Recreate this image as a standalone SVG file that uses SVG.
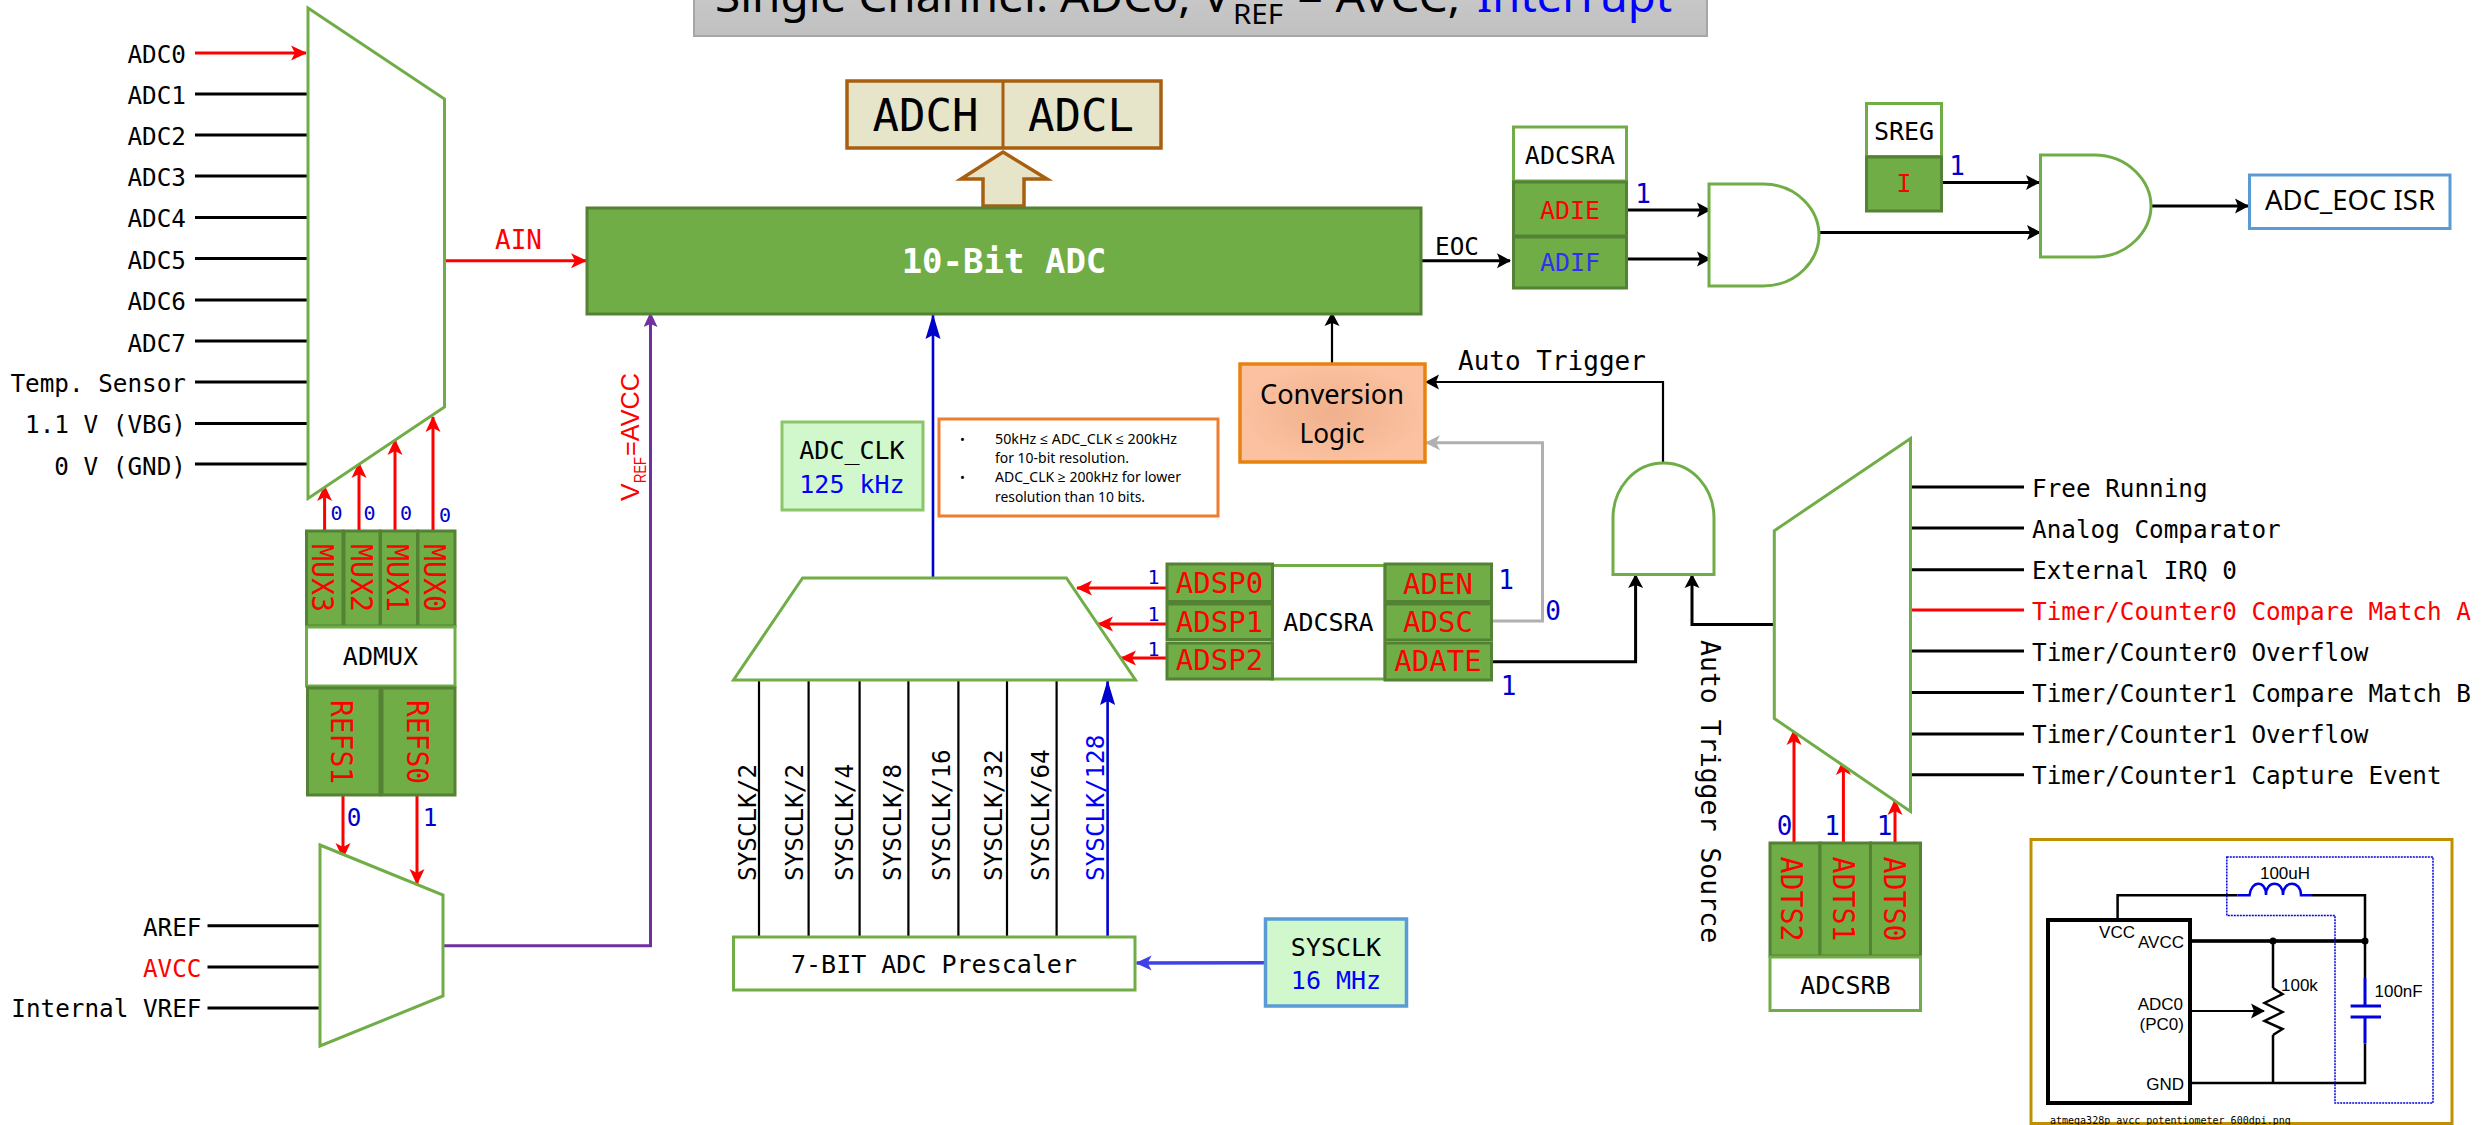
<svg xmlns="http://www.w3.org/2000/svg" width="2488" height="1125" viewBox="0 0 2488 1125">
<style>
text{font-family:"DejaVu Sans Mono",monospace;font-size:24.300px;fill:#000}
.s{font-family:"Noto Sans","Open Sans",sans-serif}
.e{text-anchor:end}.c{text-anchor:middle}
.r{fill:#f00}.b{fill:#0000cc}.bb{fill:#00f}.w{fill:#fff}
.v0{font-size:20px}.v1{font-size:26px}
.bit{fill:#70ad47;stroke:#548235;stroke-width:3}
.reg{fill:#fff;stroke:#70ad47;stroke-width:3}
.mux{fill:#fff;stroke:#70ad47;stroke-width:3}
.clk{fill:#d0f8cc}
.sch{font-family:"Liberation Sans",sans-serif;font-size:17px}
path,line{fill:none}
.k{stroke:#000;stroke-width:3}
.k2{stroke:#000;stroke-width:2.2}
.rd{stroke:#f00;stroke-width:3}
.bl{stroke:#0000cc;stroke-width:2.6}
.pu{stroke:#7030a0;stroke-width:3}
.gr{stroke:#b0b0b0;stroke-width:3}
.ib{stroke:#4040e8;stroke-width:3.5}
</style>
<defs>
<marker id="aR" markerUnits="userSpaceOnUse" markerWidth="16" markerHeight="16" viewBox="0 0 16 16" refX="15" refY="8" orient="auto"><path d="M0,0.5L16,8L0,15.5L4,8Z" style="fill:#f00"/></marker>
<marker id="aK" markerUnits="userSpaceOnUse" markerWidth="14" markerHeight="16" viewBox="0 0 14 16" refX="13" refY="8" orient="auto"><path d="M0,0.5L14,8L0,15.5L3,8Z" style="fill:#000"/></marker>
<marker id="aB" markerUnits="userSpaceOnUse" markerWidth="25" markerHeight="16" viewBox="0 0 25 16" refX="24" refY="8" orient="auto"><path d="M0,0.5L25,8L0,15.5L4,8Z" style="fill:#0000cc"/></marker>
<marker id="aI" markerUnits="userSpaceOnUse" markerWidth="16" markerHeight="16" viewBox="0 0 16 16" refX="15" refY="8" orient="auto"><path d="M0,0.5L16,8L0,15.5L4,8Z" style="fill:#4040e8"/></marker>
<marker id="aP" markerUnits="userSpaceOnUse" markerWidth="15" markerHeight="14" viewBox="0 0 15 14" refX="14" refY="7" orient="auto"><path d="M0,0L15,7L0,14L3,7Z" style="fill:#7030a0"/></marker>
<marker id="aG" markerUnits="userSpaceOnUse" markerWidth="15" markerHeight="16" viewBox="0 0 15 16" refX="14" refY="8" orient="auto"><path d="M0,0.5L15,8L0,15.5L4,8Z" style="fill:#b0b0b0"/></marker>
<radialGradient id="cl"><stop offset="0" stop-color="#f0b08c"/><stop offset="1" stop-color="#fbc1a0"/></radialGradient>
<linearGradient id="tb" x1="0" y1="0" x2="0" y2="1"><stop offset="0" stop-color="#c8c8c8"/><stop offset="1" stop-color="#c0c0c0"/></linearGradient>
</defs>
<rect width="2488" height="1125" fill="#fff"/>

<g id="title">
<rect x="694" y="-6" width="1013" height="42" fill="url(#tb)" stroke="#a6a6a6" stroke-width="2"/>
<text class="s" x="715" y="12" style="font-size:44px" textLength="515" lengthAdjust="spacingAndGlyphs">Single Channel: ADC0, V</text>
<text class="s" x="1233" y="24" style="font-size:28px" textLength="50" lengthAdjust="spacingAndGlyphs">REF</text>
<text class="s" x="1297" y="12" style="font-size:44px" textLength="163" lengthAdjust="spacingAndGlyphs">= AVCC,</text>
<text class="s bb" x="1477" y="12" style="font-size:44px" textLength="195" lengthAdjust="spacingAndGlyphs">Interrupt</text>
</g>

<g id="connectors">
<path class="rd" d="M195 53H306" marker-end="url(#aR)"/>
<path class="k" d="M195 94H308M195 135H308M195 176H308M195 217.500H308M195 258.600H308M195 300H308M195 341H308M195 382H308M195 423.600H308M195 464H308"/>
<path class="rd" d="M445 260.700H586" marker-end="url(#aR)"/>
<path class="rd" d="M324.600 530V486" marker-end="url(#aR)"/>
<path class="rd" d="M359 530V463" marker-end="url(#aR)"/>
<path class="rd" d="M395 530V440" marker-end="url(#aR)"/>
<path class="rd" d="M433 530V417" marker-end="url(#aR)"/>
<path class="rd" d="M343 796V858" marker-end="url(#aR)"/>
<path class="rd" d="M417 796V884" marker-end="url(#aR)"/>
<path class="k" d="M207.500 925.700H320M207.500 967H320M207.500 1008H320"/>
<path class="pu" d="M444 945.700H650.500V313" marker-end="url(#aP)"/>
<path class="bl" d="M933 578V315" marker-end="url(#aB)"/>
<path class="k2" d="M1332 364V313" marker-end="url(#aK)"/>
<path class="k" d="M1421 260.700H1510" marker-end="url(#aK)"/>
<path class="k" d="M1627 210H1710" marker-end="url(#aK)"/>
<path class="k" d="M1627 259H1710" marker-end="url(#aK)"/>
<path class="k" d="M1819 232.400H2040" marker-end="url(#aK)"/>
<path class="k" d="M1942 182.400H2039" marker-end="url(#aK)"/>
<path class="k" d="M2151 206H2248" marker-end="url(#aK)"/>
<path class="k2" d="M1663 463V382H1426" marker-end="url(#aK)"/>
<path class="gr" d="M1491.600 621H1542.500V442.800H1426" marker-end="url(#aG)"/>
<path class="k" d="M1491 661.700H1635.600V575" marker-end="url(#aK)"/>
<path class="k" d="M1774 624.400H1692V575" marker-end="url(#aK)"/>
<path class="rd" d="M1167 588H1077" marker-end="url(#aR)"/>
<path class="rd" d="M1167 624H1098" marker-end="url(#aR)"/>
<path class="rd" d="M1167 658H1121" marker-end="url(#aR)"/>
<path class="k2" d="M759 680V937M808.600 680V937M859.600 680V937M908.400 680V937M958.400 680V937M1007 680V937M1056.600 680V937"/>
<path class="bl" d="M1107.600 937V681" marker-end="url(#aB)"/>
<path class="ib" d="M1265 962.700L1136.600 963" marker-end="url(#aI)"/>
<path class="k" d="M1911 487H2024M1911 528H2024M1911 569.700H2024M1911 651H2024M1911 692.400H2024M1911 734H2024M1911 774.800H2024"/>
<path class="rd" d="M1911 610H2024"/>
<path class="rd" d="M1794 843V730" marker-end="url(#aR)"/>
<path class="rd" d="M1843.400 843V760" marker-end="url(#aR)"/>
<path class="rd" d="M1895 843V800" marker-end="url(#aR)"/>
</g>

<g id="adc-inputs">
<text class="e" x="186" y="62.500">ADC0</text><text class="e" x="186" y="104">ADC1</text><text class="e" x="186" y="145">ADC2</text><text class="e" x="186" y="186">ADC3</text><text class="e" x="186" y="227">ADC4</text><text class="e" x="186" y="268.500">ADC5</text><text class="e" x="186" y="310">ADC6</text><text class="e" x="186" y="351.500">ADC7</text><text class="e" x="186" y="392">Temp. Sensor</text><text class="e" x="186" y="433">1.1 V (VBG)</text><text class="e" x="186" y="474.500">0 V (GND)</text>
</g>
<g id="adc-mux"><path class="mux" d="M308 8L444.500 99V407L308 498.500Z"/></g>
<text class="r" x="495" y="249" style="font-size:26px">AIN</text>
<g id="mux-labels">
<text class="b v0" x="336.500" y="520" text-anchor="middle">0</text><text class="b v0" x="369.500" y="520" text-anchor="middle">0</text><text class="b v0" x="406" y="520" text-anchor="middle">0</text><text class="b v0" x="445" y="522" text-anchor="middle">0</text>
</g>
<g id="mux-bits">
<rect class="bit" x="306.500" y="531" width="36.500" height="95"/><rect class="bit" x="344" y="531" width="36" height="95"/><rect class="bit" x="380.500" y="531" width="37" height="95"/><rect class="bit" x="418" y="531" width="37" height="95"/>
<text class="r" transform="translate(312 544) rotate(90)" style="font-size:31px" textLength="68" lengthAdjust="spacingAndGlyphs">MUX3</text>
<text class="r" transform="translate(350.500 544) rotate(90)" style="font-size:31px" textLength="68" lengthAdjust="spacingAndGlyphs">MUX2</text>
<text class="r" transform="translate(387 544) rotate(90)" style="font-size:31px" textLength="68" lengthAdjust="spacingAndGlyphs">MUX1</text>
<text class="r" transform="translate(424 544) rotate(90)" style="font-size:31px" textLength="68" lengthAdjust="spacingAndGlyphs">MUX0</text>
</g>
<g id="admux"><rect class="reg" x="306.500" y="627" width="148.500" height="59"/><text class="c" x="380.500" y="665" style="font-size:25px">ADMUX</text></g>
<g id="refs-bits">
<rect class="bit" x="307.500" y="688" width="72.500" height="107"/><rect class="bit" x="382" y="688" width="73" height="107"/>
<text class="r" transform="translate(331 700) rotate(90)" style="font-size:31px" textLength="84" lengthAdjust="spacingAndGlyphs">REFS1</text>
<text class="r" transform="translate(406.500 700) rotate(90)" style="font-size:31px" textLength="84" lengthAdjust="spacingAndGlyphs">REFS0</text>
</g>
<text class="b c" x="354" y="826">0</text><text class="b c" x="430" y="826">1</text>
<g id="vref-mux"><path class="mux" d="M320 845L443 895V996L320 1046Z"/></g>
<g id="vref-inputs"><text class="e" x="201.500" y="935.500">AREF</text><text class="e r" x="201.500" y="976.500">AVCC</text><text class="e" x="201.500" y="1017">Internal VREF</text></g>
<g id="vref-label">
<text class="r" transform="translate(639 501) rotate(-90)" style="font-family:'Liberation Sans',sans-serif;font-size:26.500px">V</text>
<text class="r" transform="translate(646 483) rotate(-90)" style="font-family:'Liberation Sans',sans-serif;font-size:17px" textLength="26" lengthAdjust="spacingAndGlyphs">REF</text>
<text class="r" transform="translate(639 456) rotate(-90)" style="font-family:'Liberation Sans',sans-serif;font-size:26.500px" textLength="83" lengthAdjust="spacingAndGlyphs">=AVCC</text>
</g>

<g id="adc-result">
<rect x="847" y="81" width="314" height="67" fill="#e6e4c9" stroke="#a85f10" stroke-width="3.500"/>
<path d="M1003 81V148" stroke="#a85f10" stroke-width="3"/>
<text class="c" x="925.500" y="130.500" style="font-size:44px">ADCH</text><text class="c" x="1081" y="130.500" style="font-size:44px">ADCL</text>
<path d="M1003 152L1047 179H1024V206H983V179H961Z" style="fill:#e6e4c9" stroke="#a85f10" stroke-width="3.500"/>
</g>
<g id="adc-core"><rect class="bit" x="587" y="208" width="834" height="106"/><text class="c w" x="1004" y="273" style="font-size:34px;font-weight:bold">10-Bit ADC</text></g>
<text x="1435" y="255">EOC</text>
<g id="adc-clk"><rect x="782" y="422" width="141" height="88" class="clk" stroke="#8bc567" stroke-width="3"/><text class="c" x="852" y="459" style="font-size:25px">ADC_CLK</text><text class="c bb" x="852" y="493" style="font-size:25px">125 kHz</text></g>
<g id="note">
<rect x="939" y="419" width="279" height="97" fill="#fff" stroke="#ed7d31" stroke-width="3"/>
<text class="s" x="960" y="444" style="font-size:13px">•</text><text class="s" x="960" y="482" style="font-size:13px">•</text>
<text class="s" x="995" y="444" style="font-size:14px" textLength="182" lengthAdjust="spacingAndGlyphs">50kHz  ≤ ADC_CLK ≤ 200kHz</text>
<text class="s" x="995" y="463" style="font-size:14px" textLength="134" lengthAdjust="spacingAndGlyphs">for 10-bit resolution.</text>
<text class="s" x="995" y="482" style="font-size:14px" textLength="186" lengthAdjust="spacingAndGlyphs">ADC_CLK ≥ 200kHz for lower</text>
<text class="s" x="995" y="502" style="font-size:14px" textLength="150" lengthAdjust="spacingAndGlyphs">resolution than 10 bits.</text>
</g>
<g id="conversion-logic"><rect x="1240" y="364" width="185" height="98" fill="url(#cl)" stroke="#e8820f" stroke-width="3.500"/>
<text class="s c" x="1332" y="404" style="font-size:27px" textLength="144" lengthAdjust="spacingAndGlyphs">Conversion</text><text class="s c" x="1332" y="443" style="font-size:27px" textLength="65" lengthAdjust="spacingAndGlyphs">Logic</text></g>
<text x="1458" y="370" style="font-size:26px">Auto Trigger</text>

<g id="prescaler-mux"><path class="mux" d="M802.600 578H1066.400L1135.500 680H733.500Z"/></g>
<g id="sysclk-labels">
<text transform="translate(756 881) rotate(-90)">SYSCLK/2</text><text transform="translate(803 881) rotate(-90)">SYSCLK/2</text><text transform="translate(852.500 881) rotate(-90)">SYSCLK/4</text><text transform="translate(901 881) rotate(-90)">SYSCLK/8</text><text transform="translate(950 881) rotate(-90)">SYSCLK/16</text><text transform="translate(1001.700 881) rotate(-90)">SYSCLK/32</text><text transform="translate(1049.400 881) rotate(-90)">SYSCLK/64</text><text class="bb" transform="translate(1104.300 881) rotate(-90)">SYSCLK/128</text>
</g>
<g id="prescaler"><rect class="reg" x="733.500" y="937" width="401.500" height="53"/><text class="c" x="934" y="973" style="font-size:25px">7-BIT ADC Prescaler</text></g>
<g id="sysclk"><rect x="1265.500" y="919" width="141" height="87" class="clk" stroke="#5b9bd5" stroke-width="3.500"/><text class="c" x="1336" y="956" style="font-size:25px">SYSCLK</text><text class="c bb" x="1336" y="989" style="font-size:25px">16 MHz</text></g>

<g id="adcsra-lower">
<rect class="reg" x="1272" y="565.500" width="113" height="113.500"/>
<text class="c" x="1328.500" y="631" style="font-size:25px">ADCSRA</text>
<rect class="bit" x="1167" y="564" width="105.500" height="37.500"/><rect class="bit" x="1167" y="604" width="105.500" height="35.500"/><rect class="bit" x="1167" y="643" width="105.500" height="36"/>
<rect class="bit" x="1385" y="564" width="106.500" height="37.500"/><rect class="bit" x="1385" y="604" width="106.500" height="36"/><rect class="bit" x="1385" y="643" width="106.500" height="37"/>
<text class="c r" x="1219.500" y="593" style="font-size:29px">ADSP0</text><text class="c r" x="1219.500" y="631.500" style="font-size:29px">ADSP1</text><text class="c r" x="1219.500" y="670" style="font-size:29px">ADSP2</text>
<text class="c r" x="1438" y="594" style="font-size:29px">ADEN</text><text class="c r" x="1438" y="631.500" style="font-size:29px">ADSC</text><text class="c r" x="1438" y="671" style="font-size:29px">ADATE</text>
</g>
<g id="adcsra-values">
<text class="c b v0" x="1153.500" y="584">1</text><text class="c b v0" x="1153.500" y="621">1</text><text class="c b v0" x="1153.500" y="656">1</text>
<text class="c b v1" x="1506" y="589">1</text><text class="c b v1" x="1553" y="620">0</text><text class="c b v1" x="1508.500" y="695">1</text>
</g>

<g id="adcsra-upper">
<rect class="reg" x="1513.500" y="127" width="113" height="54"/><text class="c" x="1570" y="164" style="font-size:25px">ADCSRA</text>
<rect class="bit" x="1513.500" y="182" width="113" height="54"/><rect class="bit" x="1513.500" y="237" width="113" height="51"/>
<text class="c r" x="1570" y="218.500" style="font-size:25px">ADIE</text><text class="c" style="font-size:25px;fill:#3030f0" x="1570" y="271">ADIF</text>
</g>
<text class="c b v1" x="1643" y="203">1</text>
<g id="and-1"><path class="mux" d="M1709 184H1763C1798 184 1819 211 1819 235C1819 259 1798 286 1763 286H1709Z"/></g>
<g id="sreg"><rect class="reg" x="1866.500" y="103.500" width="75" height="53"/><text class="c" x="1904" y="140" style="font-size:25px">SREG</text><rect class="bit" x="1866.500" y="157" width="75" height="54"/><text class="c r" x="1904" y="192" style="font-size:25px">I</text></g>
<text class="c b v1" x="1957" y="175">1</text>
<g id="and-2"><path class="mux" d="M2040.500 155H2094C2129 155 2151 182 2151 206C2151 230 2129 257 2094 257H2040.500Z"/></g>
<g id="isr"><rect x="2249.500" y="175" width="200.500" height="53.500" fill="#fff" stroke="#5b9bd5" stroke-width="3"/><text class="s c" x="2350" y="210" style="font-size:27px" textLength="170" lengthAdjust="spacingAndGlyphs">ADC_EOC ISR</text></g>

<g id="and-3"><path class="mux" d="M1613 574.500V518C1613 489 1634 463 1663.500 463C1693 463 1714 489 1714 518V574.500Z"/></g>
<g id="trigger-mux"><path class="mux" d="M1910.500 438.500V811.500L1774.300 718.500V530.700Z"/></g>
<g id="trigger-inputs">
<text x="2032" y="496.500">Free Running</text><text x="2032" y="537.500">Analog Comparator</text><text x="2032" y="579">External IRQ 0</text><text class="r" x="2032" y="620">Timer/Counter0 Compare Match A</text><text x="2032" y="661">Timer/Counter0 Overflow</text><text x="2032" y="702">Timer/Counter1 Compare Match B</text><text x="2032" y="743">Timer/Counter1 Overflow</text><text x="2032" y="784">Timer/Counter1 Capture Event</text>
</g>
<text transform="translate(1701 640) rotate(90)" style="font-size:26.500px">Auto Trigger Source</text>
<g id="adts-bits">
<rect class="bit" x="1770" y="843" width="50" height="113"/><rect class="bit" x="1820" y="843" width="50.500" height="113"/><rect class="bit" x="1870.500" y="843" width="50" height="113"/>
<text class="r" transform="translate(1780.500 856.500) rotate(90)" style="font-size:31px" textLength="85" lengthAdjust="spacingAndGlyphs">ADTS2</text>
<text class="r" transform="translate(1833 856.500) rotate(90)" style="font-size:31px" textLength="85" lengthAdjust="spacingAndGlyphs">ADTS1</text>
<text class="r" transform="translate(1883.500 856.500) rotate(90)" style="font-size:31px" textLength="85" lengthAdjust="spacingAndGlyphs">ADTS0</text>
</g>
<text class="c b v1" x="1784.500" y="835">0</text><text class="c b v1" x="1832" y="835">1</text><text class="c b v1" x="1884.500" y="835">1</text>
<g id="adcsrb"><rect class="reg" x="1770" y="957" width="150.500" height="53.500"/><text class="c" x="1845.500" y="993.500" style="font-size:25px">ADCSRB</text></g>

<g id="schematic">
<rect x="2031" y="839.500" width="421" height="284" fill="#fff" stroke="#bf9000" stroke-width="3"/>
<rect x="2048" y="920" width="142" height="183" style="fill:#fff" stroke="#000" stroke-width="4"/>
<path d="M2117.600 920V895.300H2237.600M2312 895.300H2365V978M2190 941H2365M2273 941V988M2273 1035V1083M2365 1043.600V1083H2190" stroke="#000" stroke-width="2.500"/>
<path d="M2190 941H2365" stroke="#000" stroke-width="3.500"/>
<path d="M2237.600 895.300H2249.500C2251 880 2266 880 2266 895C2266 880 2283 880 2283 895C2283 880 2301 880 2301 895.300H2312" stroke="#0000e0" stroke-width="2.500"/>
<path d="M2365 978V1006M2350.600 1006H2381M2350.600 1017H2381M2365 1017V1043.600" stroke="#0000e0" stroke-width="3"/>
<path d="M2273 988L2282.500 994L2264.500 1003L2282.500 1012L2264.500 1021L2282.500 1029L2273 1035" stroke="#000" stroke-width="2.500"/>
<path d="M2190 1011H2264" stroke="#000" stroke-width="2" marker-end="url(#aK)"/>
<circle cx="2273" cy="941" r="3.500" fill="#000"/><circle cx="2365" cy="941" r="3.500" fill="#000"/>
<path d="M2226.800 857H2433V1103H2335V915.400H2226.800Z" stroke="#0000e0" stroke-width="1.500" stroke-dasharray="2 1"/>
<text class="sch c" x="2285" y="879">100uH</text><text class="sch c" x="2117" y="938">VCC</text><text class="sch e" x="2184" y="947.500">AVCC</text><text class="sch e" x="2183" y="1010">ADC0</text><text class="sch e" x="2184" y="1030">(PC0)</text><text class="sch e" x="2184" y="1090">GND</text><text class="sch" x="2281" y="991">100k</text><text class="sch" x="2374.500" y="997">100nF</text>
<text x="2050" y="1124" style="font-size:10px">atmega328p_avcc_potentiometer_600dpi.png</text>
</g>
</svg>
